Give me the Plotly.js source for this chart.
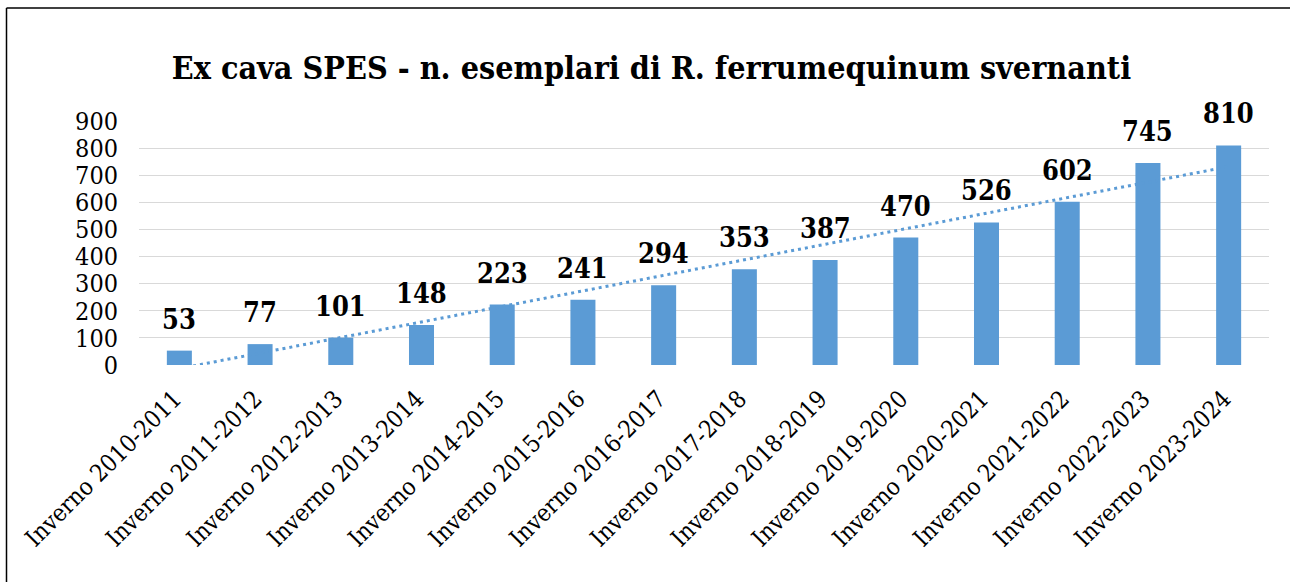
<!DOCTYPE html>
<html>
<head>
<meta charset="utf-8">
<script src="https://cdn.plot.ly/plotly-3.0.1.min.js"></script>
<style>
html,body{margin:0;padding:0;background:#fff;}
#chart{width:1290px;height:582px;}
</style>
</head>
<body>
<div id="chart"></div>
<script>
const categories = [
  "Inverno 2010-2011","Inverno 2011-2012","Inverno 2012-2013","Inverno 2013-2014",
  "Inverno 2014-2015","Inverno 2015-2016","Inverno 2016-2017","Inverno 2017-2018",
  "Inverno 2018-2019","Inverno 2019-2020","Inverno 2020-2021","Inverno 2021-2022",
  "Inverno 2022-2023","Inverno 2023-2024"
];
const counts = [53, 77, 101, 148, 223, 241, 294, 353, 387, 470, 526, 602, 745, 810];
const yTicks = [0, 100, 200, 300, 400, 500, 600, 700, 800, 900];
const chartTitle = "Ex cava SPES - n. esemplari di R. ferrumequinum svernanti";

// Linear trendline (least squares over category index), as in the spreadsheet chart
const n = counts.length;
const xs = counts.map((_, i) => i);
const mx = xs.reduce((a, b) => a + b, 0) / n;
const my = counts.reduce((a, b) => a + b, 0) / n;
let sxy = 0, sxx = 0;
for (let i = 0; i < n; i++) { sxy += (xs[i] - mx) * (counts[i] - my); sxx += (xs[i] - mx) ** 2; }
const slope = sxy / sxx;
const intercept = my - slope * mx;
const trendY = xs.map(x => intercept + slope * x);

const BLUE = "#5B9BD5";
const SERIF = "DejaVu Serif Condensed, DejaVu Serif, serif";

const traces = [
  {
    type: "bar",
    x: categories,
    y: counts,
    marker: { color: BLUE },
    hoverinfo: "skip"
  },
  {
    type: "scatter",
    mode: "lines",
    x: categories,
    y: trendY,
    line: { color: BLUE, width: 3, dash: "3px,4px" },
    hoverinfo: "skip"
  }
];

const annotations = categories.map((c, i) => ({
  x: c, y: counts[i], xref: "x", yref: "y",
  text: "<b>" + counts[i] + "</b>",
  showarrow: false,
  yanchor: "bottom",
  yshift: 14,
  font: { family: SERIF, size: 27, color: "#000" }
}));

const layout = {
  width: 1290, height: 582,
  margin: { l: 139, r: 21, t: 121, b: 217 },
  paper_bgcolor: "#fff",
  plot_bgcolor: "#fff",
  showlegend: false,
  bargap: 0.69,
  font: { family: SERIF, color: "#000" },
  title: {
    text: "<b>" + chartTitle + "</b>",
    font: { family: SERIF, size: 32, color: "#000" },
    x: 0.505, xref: "container", xanchor: "center",
    y: 1 - 68 / 582, yref: "container", yanchor: "middle"
  },
  xaxis: {
    type: "category",
    tickangle: -45,
    tickfont: { family: SERIF, size: 24, color: "#000" },
    ticklabelstandoff: 14,
    ticklabelshift: -5,
    showgrid: false,
    showline: false,
    ticks: "",
    automargin: false
  },
  yaxis: {
    range: [0, 900],
    tickvals: yTicks,
    ticktext: yTicks.map(String),
    tickfont: { family: SERIF, size: 25, color: "#000" },
    ticklabelstandoff: 20,
    showgrid: true,
    gridcolor: "#d9d9d9",
    gridwidth: 1,
    zeroline: false,
    showline: false,
    ticks: "",
    automargin: false,
    fixedrange: true
  },
  annotations: annotations,
  shapes: [
    { type: "line", xref: "paper", yref: "paper",
      x0: (6.5 - 139) / 1130, x1: (1290 - 139) / 1130,
      y0: (365 - 8) / 244, y1: (365 - 8) / 244,
      line: { color: "#000", width: 1.5 } },
    { type: "line", xref: "paper", yref: "paper",
      x0: (6.5 - 139) / 1130, x1: (6.5 - 139) / 1130,
      y0: (365 - 8) / 244, y1: (365 - 582) / 244,
      line: { color: "#000", width: 1.5 } }
  ]
};

Plotly.newPlot("chart", traces, layout, { displayModeBar: false, staticPlot: true });
</script>
</body>
</html>
